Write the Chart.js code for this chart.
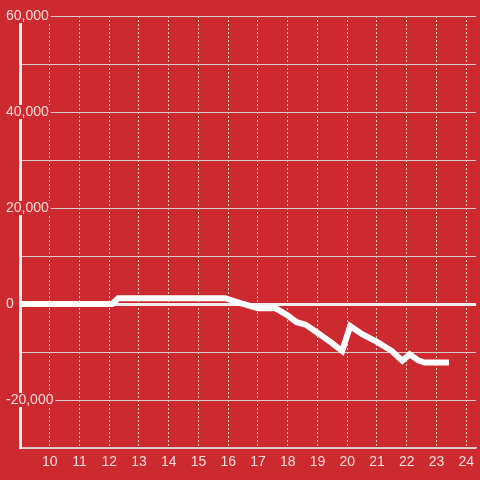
<!DOCTYPE html>
<html>
<head>
<meta charset="utf-8">
<script src="https://cdn.jsdelivr.net/npm/chart.js@4"></script>
<style>
  html, body { margin: 0; padding: 0; background: #cc2a2f; }
  #wrap { width: 480px; height: 480px; }
</style>
</head>
<body>
<div id="wrap"><canvas id="myLineChart"></canvas></div>
<script>
// data (hour of day -> value)
const hours = [8.9, 12.1, 12.3, 15.9, 16.5, 17.0, 17.6, 18.0, 18.3, 18.6, 19.0, 19.5, 19.83, 20.1, 20.5, 21.0, 21.5, 21.85, 22.1, 22.4, 22.6, 23.42];
const values = [0, 0, 1200, 1200, 0, -900, -900, -2400, -3800, -4300, -6000, -8200, -9800, -4600, -6300, -7900, -9800, -11800, -10500, -11800, -12200, -12200];
const xTicks = [10, 11, 12, 13, 14, 15, 16, 17, 18, 19, 20, 21, 22, 23, 24];
const yTicks = [-30000, -20000, -10000, 0, 10000, 20000, 30000, 40000, 50000, 60000];

const bg = '#cc2a2f';
const textColor = 'rgba(255, 240, 240, 0.9)';

const points = hours.map((h, i) => ({ x: h, y: values[i] }));

const ctx = document.getElementById('myLineChart').getContext('2d');
new Chart(ctx, {
    type: 'line',
    data: {
        datasets: [{
            data: points,
            borderColor: '#ffffff',
            borderWidth: 6,
            pointRadius: 0,
            tension: 0,
            fill: false
        }]
    },
    options: {
        responsive: true,
        maintainAspectRatio: false,
        animation: false,
        layout: { padding: { top: 16, left: 5, right: 0, bottom: 0 } },
        plugins: {
            legend: { display: false },
            tooltip: { enabled: false }
        },
        scales: {
            x: {
                type: 'linear',
                min: 9,
                max: 24.333,
                afterBuildTicks: scale => { scale.ticks = xTicks.map(v => ({ value: v })); },
                afterFit: scale => { scale.height = 32; },
                grid: {
                    color: 'rgba(235, 225, 225, 0.9)',
                    lineWidth: 1,
                    drawTicks: false
                },
                border: { display: true, color: 'rgba(220, 215, 215, 0.9)', width: 1.5, dash: [2, 2] },
                ticks: {
                    color: textColor,
                    font: { family: 'Liberation Sans, Arial, sans-serif', size: 14 },
                    padding: 6,
                    maxRotation: 0
                }
            },
            y: {
                type: 'linear',
                min: -30000,
                max: 60000,
                afterBuildTicks: scale => { scale.ticks = yTicks.map(v => ({ value: v })); },
                afterFit: scale => { scale.width = 15; },
                grid: {
                    color: c => c.tick && c.tick.value === 0 ? '#f2eeee' : 'rgba(215, 210, 210, 0.95)',
                    lineWidth: c => c.tick && c.tick.value === 0 ? 3 : 1,
                    drawTicks: false
                },
                border: { display: true, color: '#f2eeee', width: 3 },
                ticks: {
                    color: textColor,
                    mirror: true,
                    padding: -14,
                    font: { family: 'Liberation Sans, Arial, sans-serif', size: 14, lineHeight: 1 },
                    showLabelBackdrop: true,
                    backdropColor: c => c.tick && c.tick.value % 20000 === 0 ? bg : 'rgba(0,0,0,0)',
                    backdropPadding: { top: 0, bottom: 0, left: 2, right: 2 },
                    callback: v => (v % 20000 === 0 && v > -30000) ? v.toLocaleString('en-US') : ''
                }
            }
        }
    }
});
</script>
</body>
</html>
